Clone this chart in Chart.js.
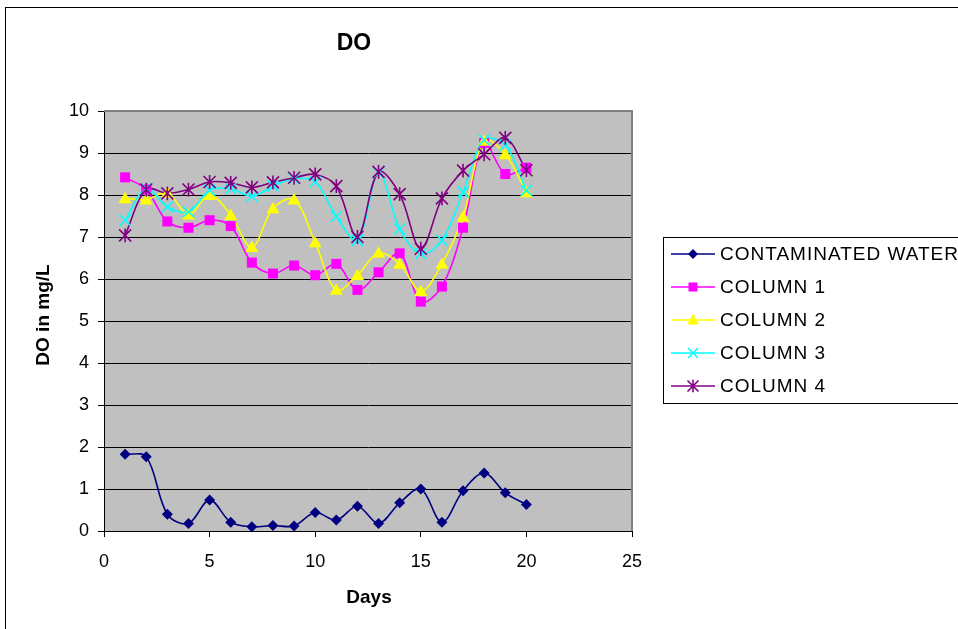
<!DOCTYPE html>
<html>
<head>
<meta charset="utf-8">
<script src="https://cdn.jsdelivr.net/npm/chart.js@4/dist/chart.umd.min.js"></script>
<style>
  html, body { margin: 0; padding: 0; background: #ffffff; }
  #wrap { width: 958px; height: 629px; position: relative; }
  canvas { display: block; }
</style>
</head>
<body>
<div id="wrap"><canvas id="c" width="958" height="629"></canvas></div>
<script>
// ---- data ----
const chartTitle = "DO";
const xTitle = "Days";
const yTitle = "DO in mg/L";
const days = [1, 2, 3, 4, 5, 6, 7, 8, 9, 10, 11, 12, 13, 14, 15, 16, 17, 18, 19, 20];
const seriesNames = ["CONTAMINATED WATER", "COLUMN 1", "COLUMN 2", "COLUMN 3", "COLUMN 4"];
const contaminated = [1.83, 1.77, 0.40, 0.18, 0.74, 0.21, 0.10, 0.13, 0.12, 0.44, 0.26, 0.59, 0.18, 0.67, 1.00, 0.21, 0.96, 1.38, 0.91, 0.63];
const column1 = [8.42, 8.13, 7.37, 7.22, 7.40, 7.26, 6.39, 6.13, 6.32, 6.09, 6.36, 5.74, 6.16, 6.61, 5.46, 5.82, 7.22, 9.24, 8.50, 8.65];
const column2 = [7.92, 7.89, 8.05, 7.53, 8.00, 7.52, 6.76, 7.68, 7.89, 6.87, 5.74, 6.09, 6.62, 6.36, 5.71, 6.36, 7.48, 9.29, 8.97, 8.06];
const column3 = [7.40, 8.15, 7.72, 7.60, 8.11, 8.15, 7.97, 8.21, 8.39, 8.31, 7.49, 6.92, 8.53, 7.19, 6.60, 6.92, 8.07, 9.31, 9.19, 8.11];
const column4 = [7.04, 8.13, 8.04, 8.13, 8.31, 8.29, 8.18, 8.30, 8.41, 8.49, 8.21, 7.00, 8.55, 8.02, 6.72, 7.92, 8.58, 8.97, 9.36, 8.59];
const xTicks = [0, 5, 10, 15, 20, 25];
const yTicks = [0, 1, 2, 3, 4, 5, 6, 7, 8, 9, 10];

// ---- styles ----
const styles = [
  { color: '#000080', point: 'diamond', r: 5.5 },
  { color: '#FF00FF', point: 'square', r: 5 },
  { color: '#FFFF00', point: 'triangle', r: 6.5 },
  { color: '#00FFFF', point: 'x', r: 5.5 },
  { color: '#800080', point: 'star', r: 6 }
];
const allSeries = [contaminated, column1, column2, column3, column4];

function drawMarker(ctx, kind, x, y, r, color) {
  ctx.save();
  ctx.fillStyle = color;
  ctx.strokeStyle = color;
  ctx.lineWidth = 1.6;
  ctx.beginPath();
  if (kind === 'diamond') {
    ctx.moveTo(x, y - r); ctx.lineTo(x + r, y); ctx.lineTo(x, y + r); ctx.lineTo(x - r, y); ctx.closePath(); ctx.fill();
  } else if (kind === 'square') {
    ctx.rect(x - r, y - r, 2 * r, 2 * r); ctx.fill();
  } else if (kind === 'triangle') {
    ctx.moveTo(x, y - r); ctx.lineTo(x + r, y + r * 0.75); ctx.lineTo(x - r, y + r * 0.75); ctx.closePath(); ctx.fill();
  } else if (kind === 'x') {
    ctx.moveTo(x - r, y - r); ctx.lineTo(x + r, y + r); ctx.moveTo(x + r, y - r); ctx.lineTo(x - r, y + r); ctx.stroke();
  } else if (kind === 'star') {
    ctx.moveTo(x - r, y - r); ctx.lineTo(x + r, y + r); ctx.moveTo(x + r, y - r); ctx.lineTo(x - r, y + r);
    ctx.moveTo(x, y - r * 1.15); ctx.lineTo(x, y + r * 1.15);
    ctx.stroke();
  }
  ctx.restore();
}

const datasets = allSeries.map((vals, i) => ({
  label: seriesNames[i],
  data: days.map((d, k) => ({ x: d, y: vals[k] })),
  borderColor: styles[i].color,
  backgroundColor: styles[i].color,
  borderWidth: 1.6,
  tension: 0.35,
  pointRadius: 0,
  pointHoverRadius: 0,
  order: -i,
  fill: false
}));

const FONT = "'Liberation Sans', Arial, sans-serif";

const decor = {
  id: 'decor',
  beforeDraw(chart) {
    const { ctx, chartArea: a } = chart;
    ctx.save();
    ctx.fillStyle = '#ffffff';
    ctx.fillRect(0, 0, chart.width, chart.height);
    ctx.strokeStyle = '#000000';
    ctx.lineWidth = 1;
    ctx.strokeRect(5.5, 7.5, 1000, 700);
    ctx.fillStyle = '#C0C0C0';
    ctx.fillRect(a.left, a.top, a.right - a.left, a.bottom - a.top);
    ctx.restore();
  },
  beforeDatasetsDraw(chart) {
    const { ctx, chartArea: a } = chart;
    ctx.save();
    ctx.strokeStyle = '#808080';
    ctx.lineWidth = 2;
    ctx.beginPath();
    ctx.moveTo(a.left, a.top);
    ctx.lineTo(a.right, a.top);
    ctx.lineTo(a.right, a.bottom);
    ctx.stroke();
    ctx.restore();
  },
  afterDatasetsDraw(chart) {
    const { ctx } = chart;
    chart.data.datasets.forEach((ds, i) => {
      const meta = chart.getDatasetMeta(i);
      meta.data.forEach(pt => {
        drawMarker(ctx, styles[i].point, pt.x, pt.y, styles[i].r, styles[i].color);
      });
    });
  },
  afterDraw(chart) {
    const { ctx } = chart;
    ctx.save();
    ctx.fillStyle = '#000000';
    ctx.textAlign = 'center';
    ctx.textBaseline = 'middle';
    ctx.font = 'bold 23px ' + FONT;
    ctx.fillText(chartTitle, 354, 44);
    ctx.font = 'bold 19px ' + FONT;
    ctx.fillText(xTitle, 369, 598);
    ctx.save();
    ctx.translate(44, 315);
    ctx.rotate(-Math.PI / 2);
    ctx.fillText(yTitle, 0, 0);
    ctx.restore();

    // legend
    ctx.fillStyle = '#ffffff';
    ctx.fillRect(663.5, 237.5, 400, 166);
    ctx.strokeStyle = '#000000';
    ctx.lineWidth = 1;
    ctx.strokeRect(663.5, 237.5, 400, 166);
    ctx.font = '19px ' + FONT;
    ctx.textAlign = 'left';
    if ('letterSpacing' in ctx) ctx.letterSpacing = '1px';
    seriesNames.forEach((name, i) => {
      const y = 254 + i * 33;
      ctx.strokeStyle = styles[i].color;
      ctx.lineWidth = 1.5;
      ctx.beginPath();
      ctx.moveTo(671, y);
      ctx.lineTo(715, y);
      ctx.stroke();
      drawMarker(ctx, styles[i].point, 693, y, styles[i].r - 0.5, styles[i].color);
      ctx.fillStyle = '#000000';
      ctx.fillText(name, 720, y + 1);
    });
    ctx.restore();
  }
};

new Chart(document.getElementById('c'), {
  type: 'line',
  data: { datasets },
  options: {
    responsive: false,
    animation: false,
    events: [],
    layout: { padding: { top: 111, left: 0, right: 326, bottom: 0 } },
    plugins: { legend: { display: false }, title: { display: false }, tooltip: { enabled: false } },
    scales: {
      x: {
        type: 'linear',
        min: 0, max: 25,
        afterFit(s) { s.height = 98; },
        afterBuildTicks(s) { s.ticks = xTicks.map(v => ({ value: v })); },
        ticks: { color: '#000', font: { family: FONT, size: 18 }, padding: 14, maxRotation: 0 },
        grid: { drawOnChartArea: false, drawTicks: true, tickLength: 6, tickColor: '#000', color: '#000' },
        border: { display: true, color: '#000', width: 1 }
      },
      y: {
        min: 0, max: 10,
        afterFit(s) { s.width = 104; },
        afterBuildTicks(s) { s.ticks = yTicks.map(v => ({ value: v })); },
        ticks: { color: '#000', font: { family: FONT, size: 18 }, padding: 9 },
        grid: {
          drawTicks: true, tickLength: 6, tickColor: '#000',
          color: (c) => (c.tick && c.tick.value === 10 ? '#808080' : '#000000'),
          lineWidth: 1
        },
        border: { display: true, color: '#000', width: 1 }
      }
    }
  },
  plugins: [decor]
});
</script>
</body>
</html>
